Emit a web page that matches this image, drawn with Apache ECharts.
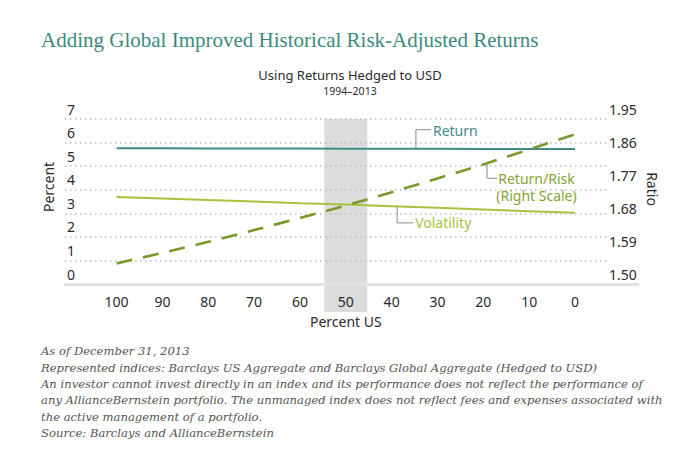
<!DOCTYPE html>
<html>
<head>
<meta charset="utf-8">
<script src="https://cdn.jsdelivr.net/npm/echarts@6/dist/echarts.min.js"></script>
<style>
html,body{margin:0;padding:0;background:#fff;}
#chart{width:700px;height:466px;}
</style>
</head>
<body>
<div id="chart"></div>
<script>
// ---- data ----
const categories = ['100','90','80','70','60','50','40','30','20','10','0'];
const returnPct = [5.76,5.76,5.75,5.75,5.75,5.74,5.74,5.74,5.73,5.73,5.73];
const volatilityPct = [3.69,3.63,3.56,3.50,3.43,3.37,3.30,3.23,3.16,3.09,3.02];
const returnRisk = [1.556,1.585,1.615,1.647,1.680,1.714,1.750,1.788,1.826,1.867,1.908];
const leftTicks = ['0','1','2','3','4','5','6','7'];
const rightTicks = ['1.50','1.59','1.68','1.77','1.86','1.95'];
const highlightCategories = ['50'];

const titleText = 'Adding Global Improved Historical Risk-Adjusted Returns';
const subtitleText = 'Using Returns Hedged to USD';
const periodText = '1994\u20132013';
const footnoteLines = [
  'As of December 31, 2013',
  'Represented indices: Barclays US Aggregate and Barclays Global Aggregate (Hedged to USD)',
  'An investor cannot invest directly in an index and its performance does not reflect the performance of',
  'any AllianceBernstein portfolio. The unmanaged index does not reflect fees and expenses associated with',
  'the active management of a portfolio.',
  'Source: Barclays and AllianceBernstein'
];

const SANS = '"Noto Sans", "Open Sans", sans-serif';
const SERIF = '"Liberation Serif", "DejaVu Serif", serif';
const NOTE_SERIF = '"DejaVu Serif", "Liberation Serif", serif';
const C_RETURN = '#3f8c82';
const C_VOL = '#a6c33f';
const C_RR = '#7a982b';
const C_TEXT = '#2b2b2b';

const chart = echarts.init(document.getElementById('chart'), null, {renderer: 'svg'});

const plotTop = 119, plotBottom = 466 - 284;

const option = {
  animation: false,
  backgroundColor: '#fff',
  title: [
    {text: titleText, left: 36, top: 24,
     textStyle: {fontFamily: SERIF, fontSize: 21, fontWeight: 'normal', color: '#3b8a7d'}},
    {text: subtitleText, left: 345, top: 63, textAlign: 'center',
     textStyle: {fontFamily: SANS, fontSize: 13, fontWeight: 'normal', color: C_TEXT}},
    {text: periodText, left: 345, top: 80, textAlign: 'center',
     textStyle: {fontFamily: SANS, fontSize: 10.5, fontWeight: 'normal', color: C_TEXT}},
    {text: footnoteLines.join('\n'), left: 36, top: 338,
     textStyle: {fontFamily: NOTE_SERIF, fontStyle: 'italic', fontSize: 11.6, fontWeight: 'normal',
                 color: '#555', lineHeight: 16.4}}
  ],
  grid: [
    {left: 116.6, right: 125, top: plotTop, bottom: plotBottom},   // data
    {left: 65, right: 93, top: plotTop, bottom: plotBottom},       // gridlines + tick labels
    {left: 65, right: 62, top: plotTop, bottom: plotBottom},       // baseline
    {left: 116.6, right: 125, top: plotTop, bottom: 466 - 312}     // highlight band
  ],
  xAxis: [
    {type: 'category', gridIndex: 0, data: categories, boundaryGap: false, z: 2,
     axisLine: {show: false}, axisTick: {show: false}, splitLine: {show: false},
     axisLabel: {fontFamily: SANS, fontSize: 14, color: C_TEXT, margin: 10},
     name: 'Percent US', nameLocation: 'middle', nameGap: 30,
     nameTextStyle: {fontFamily: SANS, fontSize: 14, color: C_TEXT}},
    {type: 'value', gridIndex: 1, show: false, min: 0, max: 1},
    {type: 'value', gridIndex: 2, min: 0, max: 1, z: 2,
     axisLine: {show: true, onZero: false, lineStyle: {color: '#e2e2e2', width: 3}},
     axisTick: {show: false}, axisLabel: {show: false}, splitLine: {show: false}},
    {type: 'category', gridIndex: 3, data: categories, boundaryGap: false, show: false}
  ],
  yAxis: [
    {type: 'value', gridIndex: 0, min: 0, max: 7, show: false},
    {type: 'value', gridIndex: 0, min: 1.5, max: 1.95, show: false, position: 'right'},
    {type: 'value', gridIndex: 1, min: 0, max: 7, interval: 1, z: 2,
     axisLine: {show: false}, axisTick: {show: false},
     axisLabel: {inside: true, margin: 2, fontFamily: SANS, fontSize: 14, color: C_TEXT,
                 verticalAlign: 'bottom', padding: [0, 0, 3, 0],
                 formatter: (v) => leftTicks[Math.round(v)] !== undefined ? leftTicks[Math.round(v)] : ''},
     splitLine: {show: true, lineStyle: {color: '#bdbdbd', width: 1.5, type: [1.5, 3.5]}}},
    {type: 'category', gridIndex: 1, data: rightTicks, boundaryGap: false, position: 'right', z: 2,
     axisLine: {show: false}, axisTick: {show: false}, splitLine: {show: false},
     axisLabel: {margin: 2, fontFamily: SANS, fontSize: 14, color: C_TEXT,
                 verticalAlign: 'bottom', padding: [0, 0, 3, 0], interval: 0}},
    {type: 'value', gridIndex: 2, show: false, min: 0, max: 1},
    {type: 'value', gridIndex: 3, show: false, min: 0, max: 1}
  ],
  series: [
    {type: 'bar', xAxisIndex: 3, yAxisIndex: 5, z: 1, silent: true, barWidth: 43,
     itemStyle: {color: '#dcdcdc'},
     data: categories.map(c => highlightCategories.indexOf(c) >= 0 ? 1 : null)},
    {name: 'Return', type: 'line', xAxisIndex: 0, yAxisIndex: 0, z: 4, symbol: 'none',
     lineStyle: {color: C_RETURN, width: 2}, data: returnPct},
    {name: 'Volatility', type: 'line', xAxisIndex: 0, yAxisIndex: 0, z: 4, symbol: 'none',
     lineStyle: {color: C_VOL, width: 2}, data: volatilityPct},
    {name: 'Return/Risk', type: 'line', xAxisIndex: 0, yAxisIndex: 1, z: 5, symbol: 'none',
     lineStyle: {color: C_RR, width: 2.6, type: [16, 11]}, data: returnRisk}
  ]
};
chart.setOption(option);

// ---- annotations anchored to the data via the chart's own scales ----
function px(t, arr, yAxisIndex) {
  const i = Math.min(Math.floor(t), arr.length - 2), f = t - i;
  const finder = {xAxisIndex: 0, yAxisIndex: yAxisIndex};
  const a = chart.convertToPixel(finder, [i, arr[i]]);
  const b = chart.convertToPixel(finder, [i + 1, arr[i + 1]]);
  return [a[0] + (b[0] - a[0]) * f, a[1] + (b[1] - a[1]) * f];
}
const gray = '#8a8a8a';
const pR = px(6.53, returnPct, 0);
const pV = px(6.12, volatilityPct, 0);
const pRR = px(8.08, returnRisk, 1);
const lbl = (x, y, text, color, extra) => ({
  type: 'text', x: x, y: y, z: 10,
  style: Object.assign({text: text, fill: color, font: '14px ' + SANS, textVerticalAlign: 'middle'}, extra || {})
});
chart.setOption({
  graphic: [
    {type: 'polyline', z: 10, shape: {points: [[pR[0], pR[1]], [pR[0], pR[1] - 19], [pR[0] + 15, pR[1] - 19]]},
     style: {stroke: gray, lineWidth: 1, fill: null}},
    lbl(pR[0] + 17, pR[1] - 18, 'Return', C_RETURN),
    {type: 'polyline', z: 10, shape: {points: [[pV[0], pV[1]], [pV[0], pV[1] + 16.5], [pV[0] + 16, pV[1] + 16.5]]},
     style: {stroke: gray, lineWidth: 1, fill: null}},
    lbl(pV[0] + 18, pV[1] + 16.5, 'Volatility', C_VOL),
    {type: 'polyline', z: 10, shape: {points: [[pRR[0], pRR[1]], [pRR[0], pRR[1] + 15], [pRR[0] + 10, pRR[1] + 15]]},
     style: {stroke: gray, lineWidth: 1, fill: null}},
    lbl(pRR[0] + 49.5, pRR[1] + 6, 'Return/Risk\n(Right Scale)', '#86a334',
        {textAlign: 'center', textVerticalAlign: 'top', lineHeight: 17.7}),
    {type: 'text', z: 10, x: 48, y: 187, rotation: Math.PI / 2,
     style: {text: 'Percent', fill: C_TEXT, font: '14px ' + SANS, textAlign: 'center', textVerticalAlign: 'middle'}},
    {type: 'text', z: 10, x: 652, y: 189, rotation: -Math.PI / 2,
     style: {text: 'Ratio', fill: C_TEXT, font: '14px ' + SANS, textAlign: 'center', textVerticalAlign: 'middle'}}
  ]
});
</script>
</body>
</html>
